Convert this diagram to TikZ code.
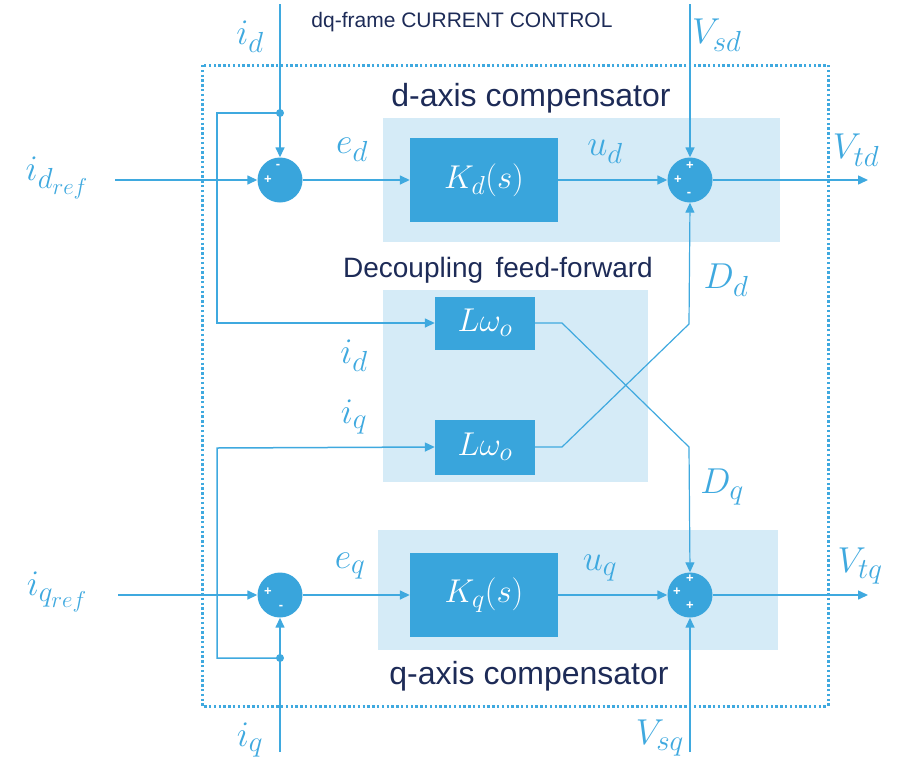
\RequirePackage{fix-cm}
\documentclass[tikz,border=0pt]{standalone}
\usepackage{fontspec}
\setsansfont{Liberation Sans}
\usetikzlibrary{arrows.meta}
\DeclareMathSizes{36}{36}{29}{23}
\DeclareMathSizes{33}{33}{26}{20}
\definecolor{lineblue}{HTML}{3FA9DF}
\definecolor{boxblue}{HTML}{39A5DC}
\definecolor{lightblue}{HTML}{D5EBF7}
\definecolor{navy}{HTML}{1D2B57}
\tikzset{
  wire/.style={draw=lineblue, line width=1.5pt},
  arr/.style={wire, -{Triangle[length=10pt,width=9pt]}},
  sumnode/.style={circle, fill=boxblue, minimum size=45pt, inner sep=0pt},
  blockbox/.style={rectangle, fill=boxblue, text=white, inner sep=0pt, font=\fontsize{33}{38}\selectfont},
  mlabel/.style={text=lineblue, font=\fontsize{36}{40}\selectfont, inner sep=0pt},
  sign/.style={text=white, font=\sffamily\bfseries\fontsize{13}{14}\selectfont, inner sep=0pt},
  caption/.style={text=navy, font=\sffamily\fontsize{32}{36}\selectfont, inner sep=0pt},
  jdot/.style={fill=lineblue, circle, inner sep=0pt, minimum size=8pt},
}
\begin{document}
\begin{tikzpicture}[x=1pt,y=-1pt]
\useasboundingbox (0,0) rectangle (899,763);
% background light boxes
\fill[lightblue] (383,118) rectangle (780,242);
\fill[lightblue] (383,290) rectangle (648,482);
\fill[lightblue] (378,530) rectangle (778,650);
% dotted frame
\draw[lineblue, line width=3pt, dash pattern=on 2.4pt off 2.4pt] (202,65) rectangle (828,706);
% captions
\node[text=navy, font=\sffamily\fontsize{21}{24}\selectfont, inner sep=0pt] (title) at (462,22) {dq-frame CURRENT CONTROL};
\node[caption] (dcap) at (531,98) {d-axis compensator};
\node[caption, font=\sffamily\fontsize{28}{32}\selectfont] (ffcap) at (498,270) {Decoupling\, feed-forward};
\node[caption] (qcap) at (529,676) {q-axis compensator};
% blocks
\node[sumnode] (sd) at (280,180) {};
\node[sumnode] (sD) at (690,180) {};
\node[sumnode] (sq) at (280,595) {};
\node[sumnode] (sQ) at (690,595) {};
\node[blockbox, minimum width=148pt, minimum height=84pt] (Kd) at (484,180) {$K_d(s)$};
\node[blockbox, minimum width=148pt, minimum height=84pt] (Kq) at (484,595) {$K_q(s)$};
\node[blockbox, minimum width=100pt, minimum height=53pt] (L1) at (485,323) {$L\omega_o$};
\node[blockbox, minimum width=100pt, minimum height=55pt] (L2) at (485,447) {$L\omega_o$};
% signs
\node[sign] at (278,166) {-};
\node[sign] at (268,180) {+};
\node[sign] at (690,166) {+};
\node[sign] at (678,180) {+};
\node[sign] at (689,194) {-};
\node[sign] at (268,592) {+};
\node[sign] at (281,607) {-};
\node[sign] at (690,579) {+};
\node[sign] at (677,592) {+};
\node[sign] at (690,606) {+};
% coordinates
\coordinate (idtop) at (280,4);
\coordinate (jd) at (280,113);
\coordinate (iqbot) at (280,752);
\coordinate (jq) at (280,658);
\coordinate (vsdtop) at (690,4);
\coordinate (vsqbot) at (690,752);
\coordinate (idrefin) at (115,180);
\coordinate (iqrefin) at (118,595);
\coordinate (vtdout) at (868,180);
\coordinate (vtqout) at (868,595);
% junction dots
\node[jdot] (jdd) at (jd) {};
\node[jdot] (jqd) at (jq) {};
% wires d
\draw[arr] (idtop) -- (sd.north);
\draw[arr] (idrefin) -- (sd.west);
\draw[arr] (sd.east) -- (Kd.west);
\draw[arr] (Kd.east) -- (sD.west);
\draw[arr] (vsdtop) -- (sD.north);
\draw[arr] (sD.east) -- (vtdout);
\draw[arr] (jd) -- (217,113) -- (217,323) -- (L1.west);
% wires q
\draw[arr] (iqbot) -- (sq.south);
\draw[arr] (iqrefin) -- (sq.west);
\draw[arr] (sq.east) -- (Kq.west);
\draw[arr] (Kq.east) -- (sQ.west);
\draw[arr] (vsqbot) -- (sQ.south);
\draw[arr] (sQ.east) -- (vtqout);
\draw[arr] (jq) -- (217,658) -- (217,448) -- (L2.west);
% cross coupling
\draw[arr, line width=1.2pt] (L2.east) -- (562,447) -- (689,324) -- (sD.south);
\draw[arr, line width=1.2pt] (L1.east) -- (562,323) -- (689,447) -- (sQ.north);
% math labels
\node[mlabel] (lid) at (250,37) {$i_d$};
\node[mlabel, anchor=west] (lvsd) at (692,35) {$V_{sd}$};
\node[mlabel] (lidref) at (57,178) {$i_{d_{ref}}$};
\node[mlabel] (led) at (352,150) {$e_d$};
\node[mlabel] (lud) at (605,152) {$u_d$};
\node[mlabel] (lvtd) at (856,150) {$V_{td}$};
\node[mlabel] (lDd) at (726,280) {$D_d$};
\node[mlabel] (lid2) at (354,356) {$i_d$};
\node[mlabel] (liq2) at (354,417) {$i_q$};
\node[mlabel] (lDq) at (722,487) {$D_q$};
\node[mlabel] (liqref) at (57,592) {$i_{q_{ref}}$};
\node[mlabel] (leq) at (350,566) {$e_q$};
\node[mlabel] (luq) at (600,568) {$u_q$};
\node[mlabel] (lvtq) at (860,566) {$V_{tq}$};
\node[mlabel] (liq) at (250,740) {$i_q$};
\node[mlabel, anchor=east] (lvsq) at (684,738) {$V_{sq}$};
\end{tikzpicture}
\end{document}
